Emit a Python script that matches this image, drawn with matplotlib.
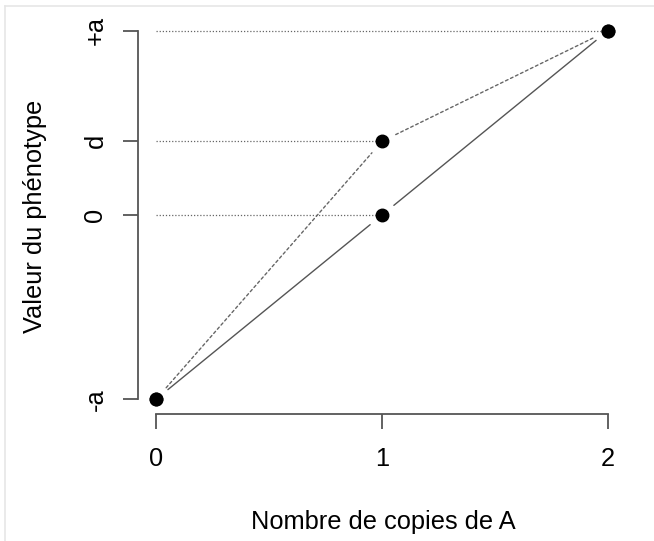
import matplotlib
matplotlib.use("Agg")
import matplotlib.pyplot as plt
from matplotlib.lines import Line2D

# Genotype classes and phenotype values (a = additive effect, d = dominance deviation)
a = 1.0
d = 0.4
copies = [0, 1, 2]
additive = [-a, 0.0, a]
dominant = [-a, d, a]
ytick_values = [-a, 0.0, d, a]
ytick_labels = ["-a", "0", "d", "+a"]
xtick_labels = ["0", "1", "2"]

plt.rcParams["font.family"] = ["Liberation Sans", "DejaVu Sans"]
FS = 18.3

fig = plt.figure(figsize=(6.54, 5.41), dpi=100)
ax = fig.add_axes([138 / 654, 1 - 414 / 541, 488 / 654, 398 / 541])

ax.set_xlim(-0.08, 2.08)
ax.set_ylim(-1.08, 1.08)

line_col = "#555555"
axis_col = "#555555"

# Reference lines from x = 0 to each heterozygote / homozygote value
for xe, ye in [(copies[2], dominant[2]), (copies[1], dominant[1]), (copies[1], additive[1])]:
    ax.plot([copies[0], xe], [ye, ye], color="#666666", lw=0.9,
            linestyle=(0, (1, 1.5)), zorder=1)

# Connecting segments with gaps around the points
def gapped(xs, ys, **style):
    for i in range(len(xs) - 1):
        ax.annotate("", xy=(xs[i + 1], ys[i + 1]), xytext=(xs[i], ys[i]),
                    arrowprops=dict(arrowstyle="-", shrinkA=11, shrinkB=11, **style),
                    zorder=2)

gapped(copies, additive, color=line_col, lw=1.0, linestyle="-")
gapped(copies, dominant, color="#666666", lw=1.0, linestyle=(0, (2, 2)))

ax.plot(copies, additive, "o", color="black", ms=9, zorder=3)
ax.plot(copies, dominant, "o", color="black", ms=9, zorder=3)

for side in ["top", "right"]:
    ax.spines[side].set_visible(False)
ax.spines["left"].set_bounds(-a, a)
ax.spines["bottom"].set_bounds(0, 2)
for side in ["left", "bottom"]:
    ax.spines[side].set_color(axis_col)
    ax.spines[side].set_linewidth(1.3)

ax.set_xticks(copies)
ax.set_xticklabels(xtick_labels)
ax.set_yticks(ytick_values)
ax.set_yticklabels(ytick_labels, rotation=90, va="center")
ax.tick_params(axis="both", length=11, width=1.3, color=axis_col,
               labelsize=FS, labelcolor="black")
ax.tick_params(axis="x", pad=13)
ax.tick_params(axis="y", pad=11)

ax.set_xlabel("Nombre de copies de A", fontsize=FS)
ax.set_ylabel("Valeur du phénotype", fontsize=FS)
ax.xaxis.set_label_coords((383 - 138) / 488, (414 - 522) / 398)
ax.xaxis.label.set_va("center")
ax.yaxis.set_label_coords((35 - 138) / 488, (414 - 216) / 398)
ax.yaxis.label.set_va("center")
ax.yaxis.label.set_ha("center")

# Thin light frame along the top and left edges
fig.add_artist(Line2D([5.5 / 654, 5.5 / 654], [0, 1 - 5.5 / 541],
                      transform=fig.transFigure, color="#e6e6e6", lw=1.2))
fig.add_artist(Line2D([5.5 / 654, 1], [1 - 5.5 / 541, 1 - 5.5 / 541],
                      transform=fig.transFigure, color="#e6e6e6", lw=1.2))

fig.savefig("out.png", dpi=100)
